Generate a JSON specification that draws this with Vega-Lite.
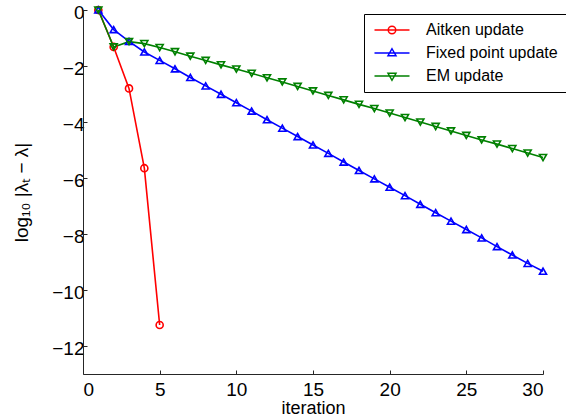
{
  "$schema": "https://vega.github.io/schema/vega-lite/v6.json",
  "width": 460,
  "height": 364,
  "autosize": {"type": "none"},
  "padding": {"left": 83, "top": 10, "right": 23, "bottom": 45},
  "background": "white",
  "config": {
    "view": {"stroke": null},
    "font": "Liberation Sans",
    "axis": {
      "grid": false,
      "domainColor": "#262626",
      "domainWidth": 1,
      "tickColor": "#262626",
      "tickWidth": 1,
      "tickSize": -4,
      "labelFont": "Liberation Sans",
      "labelFontSize": 19,
      "labelColor": "black",
      "titleFont": "Liberation Sans",
      "titleFontSize": 19,
      "titleFontWeight": "normal",
      "titleColor": "black"
    }
  },
  "data": {
    "values": [
      {"series": "Aitken update", "iteration": 1, "value": 0},
      {"series": "Aitken update", "iteration": 2, "value": -1.32},
      {"series": "Aitken update", "iteration": 3, "value": -2.8},
      {"series": "Aitken update", "iteration": 4, "value": -5.65},
      {"series": "Aitken update", "iteration": 5, "value": -11.25},
      {"series": "Fixed point update", "iteration": 1, "value": 0},
      {"series": "Fixed point update", "iteration": 2, "value": -0.7},
      {"series": "Fixed point update", "iteration": 3, "value": -1.12},
      {"series": "Fixed point update", "iteration": 4, "value": -1.5},
      {"series": "Fixed point update", "iteration": 5, "value": -1.8},
      {"series": "Fixed point update", "iteration": 6, "value": -2.1},
      {"series": "Fixed point update", "iteration": 7, "value": -2.41},
      {"series": "Fixed point update", "iteration": 8, "value": -2.71},
      {"series": "Fixed point update", "iteration": 9, "value": -3.01},
      {"series": "Fixed point update", "iteration": 10, "value": -3.31},
      {"series": "Fixed point update", "iteration": 11, "value": -3.61},
      {"series": "Fixed point update", "iteration": 12, "value": -3.92},
      {"series": "Fixed point update", "iteration": 13, "value": -4.22},
      {"series": "Fixed point update", "iteration": 14, "value": -4.52},
      {"series": "Fixed point update", "iteration": 15, "value": -4.82},
      {"series": "Fixed point update", "iteration": 16, "value": -5.12},
      {"series": "Fixed point update", "iteration": 17, "value": -5.43},
      {"series": "Fixed point update", "iteration": 18, "value": -5.73},
      {"series": "Fixed point update", "iteration": 19, "value": -6.03},
      {"series": "Fixed point update", "iteration": 20, "value": -6.33},
      {"series": "Fixed point update", "iteration": 21, "value": -6.63},
      {"series": "Fixed point update", "iteration": 22, "value": -6.94},
      {"series": "Fixed point update", "iteration": 23, "value": -7.24},
      {"series": "Fixed point update", "iteration": 24, "value": -7.54},
      {"series": "Fixed point update", "iteration": 25, "value": -7.84},
      {"series": "Fixed point update", "iteration": 26, "value": -8.14},
      {"series": "Fixed point update", "iteration": 27, "value": -8.45},
      {"series": "Fixed point update", "iteration": 28, "value": -8.75},
      {"series": "Fixed point update", "iteration": 29, "value": -9.05},
      {"series": "Fixed point update", "iteration": 30, "value": -9.33},
      {"series": "EM update", "iteration": 1, "value": 0},
      {"series": "EM update", "iteration": 2, "value": -1.32},
      {"series": "EM update", "iteration": 3, "value": -1.13},
      {"series": "EM update", "iteration": 4, "value": -1.2},
      {"series": "EM update", "iteration": 5, "value": -1.34},
      {"series": "EM update", "iteration": 6, "value": -1.49},
      {"series": "EM update", "iteration": 7, "value": -1.65},
      {"series": "EM update", "iteration": 8, "value": -1.8},
      {"series": "EM update", "iteration": 9, "value": -1.96},
      {"series": "EM update", "iteration": 10, "value": -2.11},
      {"series": "EM update", "iteration": 11, "value": -2.26},
      {"series": "EM update", "iteration": 12, "value": -2.42},
      {"series": "EM update", "iteration": 13, "value": -2.57},
      {"series": "EM update", "iteration": 14, "value": -2.73},
      {"series": "EM update", "iteration": 15, "value": -2.89},
      {"series": "EM update", "iteration": 16, "value": -3.05},
      {"series": "EM update", "iteration": 17, "value": -3.21},
      {"series": "EM update", "iteration": 18, "value": -3.37},
      {"series": "EM update", "iteration": 19, "value": -3.52},
      {"series": "EM update", "iteration": 20, "value": -3.68},
      {"series": "EM update", "iteration": 21, "value": -3.84},
      {"series": "EM update", "iteration": 22, "value": -4.0},
      {"series": "EM update", "iteration": 23, "value": -4.16},
      {"series": "EM update", "iteration": 24, "value": -4.32},
      {"series": "EM update", "iteration": 25, "value": -4.48},
      {"series": "EM update", "iteration": 26, "value": -4.64},
      {"series": "EM update", "iteration": 27, "value": -4.79},
      {"series": "EM update", "iteration": 28, "value": -4.95},
      {"series": "EM update", "iteration": 29, "value": -5.11},
      {"series": "EM update", "iteration": 30, "value": -5.27}
    ]
  },
  "encoding": {
    "x": {
      "field": "iteration",
      "type": "quantitative",
      "scale": {"domain": [0, 30], "nice": false, "zero": false},
      "axis": {"values": [0, 5, 10, 15, 20, 25, 30], "title": "iteration", "labelPadding": 10, "titlePadding": 0, "titleFontSize": 18}
    },
    "y": {
      "field": "value",
      "type": "quantitative",
      "scale": {"domain": [-13, 0], "nice": false, "zero": false},
      "axis": {"values": [-12, -10, -8, -6, -4, -2, 0], "title": "log₁₀ |λₜ − λ|", "labelPadding": 3, "labelOffset": 2.5, "titlePadding": 20}
    }
  },
  "resolve": {"scale": {"shape": "independent", "color": "independent"}},
  "layer": [
    {
      "mark": {"type": "line", "strokeWidth": 1.6},
      "encoding": {
        "color": {
          "field": "series",
          "type": "nominal",
          "scale": {"domain": ["Aitken update", "Fixed point update", "EM update"], "range": ["#ff0000", "#0000ff", "#008000"]},
          "legend": null
        }
      }
    },
    {
      "mark": {"type": "point", "filled": false, "strokeWidth": 1.6, "opacity": 1, "size": 50},
      "encoding": {
        "color": {
          "field": "series",
          "type": "nominal",
          "scale": {"domain": ["Aitken update", "Fixed point update", "EM update"], "range": ["#ff0000", "#0000ff", "#008000"]},
          "legend": null
        },
        "shape": {
          "field": "series",
          "type": "nominal",
          "scale": {"domain": ["Aitken update", "Fixed point update", "EM update"], "range": ["circle", "triangle-up", "triangle-down"]},
          "legend": null
        }
      }
    },
    {
      "mark": {"type": "point", "filled": false, "strokeWidth": 1.5, "opacity": 0, "size": 100},
      "encoding": {
        "color": {
          "field": "series",
          "type": "nominal",
          "scale": {"domain": ["Aitken update", "Fixed point update", "EM update"], "range": ["#ff0000", "#0000ff", "#008000"]},
          "legend": {
            "title": null,
            "orient": "none",
            "legendX": 281,
            "legendY": 4,
            "padding": 8,
            "strokeColor": "black",
            "fillColor": "white",
            "labelFont": "Liberation Sans",
            "labelFontSize": 16,
            "labelColor": "black",
            "symbolSize": 100,
            "symbolStrokeWidth": 1.5,
            "symbolOpacity": 1,
            "symbolOffset": 12,
            "labelOffset": 26,
            "rowPadding": 7
          }
        },
        "shape": {
          "field": "series",
          "type": "nominal",
          "scale": {
            "domain": ["Aitken update", "Fixed point update", "EM update"],
            "range": [
              "M-3.5,0H3.5M-0.75,0A0.75,0.75,0,1,0,0.75,0A0.75,0.75,0,1,0,-0.75,0Z",
              "M-3.5,0H3.5M0,-0.85L0.8,0.55L-0.8,0.55Z",
              "M-3.5,0H3.5M0,0.85L0.8,-0.55L-0.8,-0.55Z"
            ]
          },
          "legend": {
            "title": null,
            "orient": "none",
            "legendX": 281,
            "legendY": 4,
            "padding": 8,
            "strokeColor": "black",
            "fillColor": "white",
            "labelFont": "Liberation Sans",
            "labelFontSize": 16,
            "labelColor": "black",
            "symbolSize": 100,
            "symbolStrokeWidth": 1.5,
            "symbolOpacity": 1,
            "symbolOffset": 12,
            "labelOffset": 26,
            "rowPadding": 7
          }
        }
      }
    }
  ]
}
